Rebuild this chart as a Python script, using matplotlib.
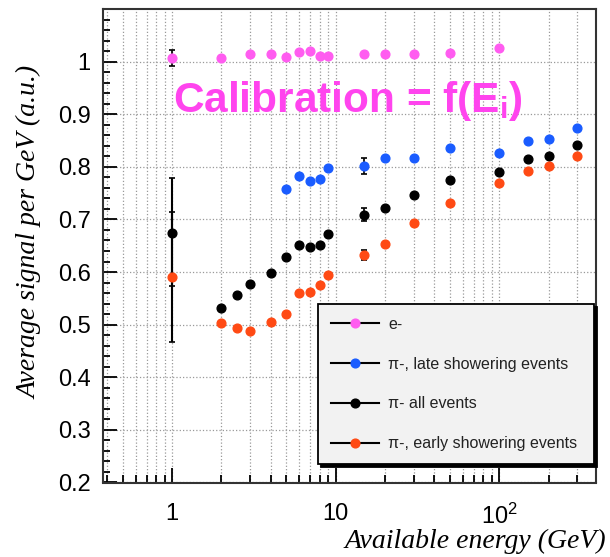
import matplotlib
matplotlib.use("Agg")
import matplotlib.pyplot as plt
from matplotlib.lines import Line2D
from matplotlib.ticker import LogLocator, NullFormatter, MultipleLocator
import numpy as np

plt.rcParams['font.family'] = ['Liberation Sans', 'DejaVu Sans']
plt.rcParams['mathtext.fontset'] = 'custom'
plt.rcParams['mathtext.rm'] = 'Liberation Sans'
plt.rcParams['mathtext.bf'] = 'Liberation Sans:bold'

# Donnees
e_energy = [1, 2, 3, 4, 5, 6, 7, 8, 9, 15, 20, 30, 50, 100]
e_signal = [1.007, 1.006, 1.015, 1.015, 1.008, 1.018, 1.020, 1.010, 1.010,
            1.014, 1.014, 1.015, 1.016, 1.025]

late_energy = [5, 6, 7, 8, 9, 15, 20, 30, 50, 100, 150, 200, 300]
late_signal = [0.758, 0.782, 0.774, 0.776, 0.797, 0.801, 0.817, 0.817, 0.836,
               0.827, 0.850, 0.852, 0.874]

all_energy = [1, 2, 2.5, 3, 4, 5, 6, 7, 8, 9, 15, 20, 30, 50, 100, 150, 200, 300]
all_signal = [0.674, 0.532, 0.557, 0.577, 0.598, 0.628, 0.651, 0.648, 0.652,
              0.673, 0.709, 0.722, 0.746, 0.775, 0.790, 0.814, 0.821, 0.841]

early_energy = [1, 2, 2.5, 3, 4, 5, 6, 7, 8, 9, 15, 20, 30, 50, 100, 150, 200, 300]
early_signal = [0.590, 0.503, 0.494, 0.488, 0.506, 0.521, 0.560, 0.563, 0.575,
                0.594, 0.632, 0.653, 0.693, 0.732, 0.769, 0.792, 0.802, 0.821]

legend_labels = ["e-", "\u03c0-, late showering events", "\u03c0- all events",
                 "\u03c0-, early showering events"]
colors = ['#ff5cf0', '#1a5cff', '#000000', '#ff4a14']

fig = plt.figure(figsize=(6.1, 5.57), dpi=100)
ax = fig.add_axes([103.3 / 610, 74.5 / 557, 492.7 / 610, 473.5 / 557])

ax.set_xscale('log')
ax.set_xlim(0.38, 390)
ax.set_ylim(0.2, 1.1)

# grille pointillee
ax.grid(True, which='both', axis='x', linestyle=':', color='#999999', linewidth=0.9)
ax.grid(True, which='major', axis='y', linestyle=':', color='#999999', linewidth=0.9)
ax.set_axisbelow(True)

# barres d'erreur
ax.errorbar([1], [0.674], yerr=[[0.207], [0.104]], fmt='none', ecolor='black',
            elinewidth=1.5, capsize=2.5, capthick=1.2, zorder=2)
ax.errorbar([1], [0.590], yerr=[[0.016], [0.124]], fmt='none', ecolor='black',
            elinewidth=1.5, capsize=2.5, capthick=1.2, zorder=2)
ax.errorbar([1], [1.007], yerr=0.015, fmt='none', ecolor='black', elinewidth=1.2,
            capsize=2.5, capthick=1.2, zorder=2)
ax.errorbar([15, 15, 15], [0.801, 0.709, 0.632], yerr=[0.015, 0.012, 0.01], fmt='none',
            ecolor='black', elinewidth=1.2, capsize=2.5, capthick=1.2, zorder=2)

series = [(e_energy, e_signal), (late_energy, late_signal),
          (all_energy, all_signal), (early_energy, early_signal)]
for (xs, ys), c in zip(series, colors):
    ax.plot(xs, ys, linestyle='none', marker='o', ms=6.3, color=c, mec=c, zorder=3)

# axes
ax.set_xticks([1, 10, 100])
ax.set_xticklabels(['1', '10', r'$\mathregular{10^2}$'])
ax.xaxis.set_minor_locator(LogLocator(base=10, subs=np.arange(2, 10)))
ax.xaxis.set_minor_formatter(NullFormatter())
yt = np.round(np.arange(0.2, 1.01, 0.1), 1)
ax.set_yticks(yt)
ax.set_yticklabels(['0.2', '0.3', '0.4', '0.5', '0.6', '0.7', '0.8', '0.9', '1'])
ax.yaxis.set_minor_locator(MultipleLocator(0.02))

ax.tick_params(axis='both', which='both', direction='in', colors='black', width=1.3)
ax.tick_params(axis='x', which='major', length=11, pad=15, labelsize=17)
ax.tick_params(axis='x', which='minor', length=6)
ax.tick_params(axis='y', which='major', length=10, pad=9, labelsize=17)
ax.tick_params(axis='y', which='minor', length=5)
for sp in ax.spines.values():
    sp.set_linewidth(1.5)
    sp.set_color('#333333')

fig.text(30 / 610, 1 - 232 / 557, 'Average signal per GeV (a.u.)', rotation=90,
         ha='center', va='center', family='Liberation Serif', style='italic', fontsize=20)
fig.text(606 / 610, 1 - 541 / 557, 'Available energy (GeV)', ha='right', va='center',
         family='Liberation Serif', style='italic', fontsize=20)

ax.text(1.02, 0.904, r'Calibration = f(E$_\mathbf{i}$)', color='#ff44ee', fontsize=30.5,
        fontweight='bold', ha='left', va='baseline', zorder=4)

handles = [Line2D([], [], color='black', lw=1.5, marker='o', ms=6.3, mfc=c, mec=c)
           for c in colors]
leg = ax.legend(handles, legend_labels, loc='lower left',
                bbox_to_anchor=(0.436, 0.039, 0.56, 0.323), mode='expand',
                borderaxespad=0, fontsize=11.5, handlelength=3.0, handletextpad=0.6,
                labelspacing=1.55, borderpad=0.8, fancybox=False, framealpha=1,
                shadow={'color': 'black', 'alpha': 1})
leg.get_frame().set_facecolor('#f2f2f2')
leg.get_frame().set_edgecolor('black')
leg.get_frame().set_linewidth(1.3)
for t in leg.get_texts():
    t.set_color('#222222')

plt.savefig('out.png', dpi=100)
